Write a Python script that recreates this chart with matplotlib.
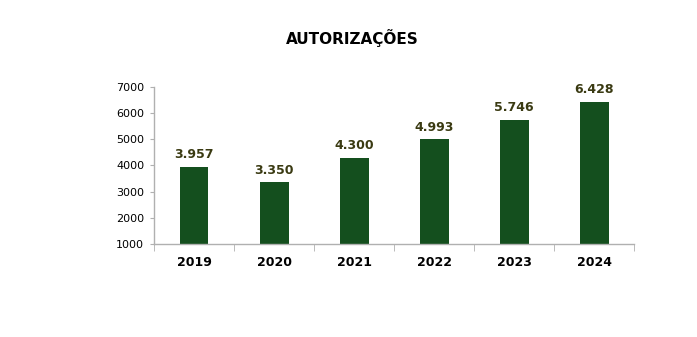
import matplotlib
matplotlib.use("Agg")
import matplotlib.pyplot as plt
import numpy as np

years = ["2019", "2020", "2021", "2022", "2023", "2024"]
autorizacoes = [3957, 3350, 4300, 4993, 5746, 6428]
value_labels = ["3.957", "3.350", "4.300", "4.993", "5.746", "6.428"]
y_ticks = [1000, 2000, 3000, 4000, 5000, 6000, 7000]

bar_color = "#144f1e"
label_color = "#3a3a12"
axis_color = "#b0b0b0"

plt.rcParams["font.family"] = ["DejaVu Sans"]

fig = plt.figure(figsize=(6.97, 3.37), dpi=100)
ax = fig.add_axes([0.221, 0.276, 0.689, 0.466])

x = np.arange(len(years))
ax.bar(x, autorizacoes, width=0.36, color=bar_color, zorder=2)

for xi, v, lab in zip(x, autorizacoes, value_labels):
    ax.annotate(lab, (xi, v), xytext=(0, 4), textcoords="offset points",
                ha="center", va="bottom", fontsize=9, fontweight="bold",
                color=label_color)

ax.set_xlim(-0.5, len(years) - 0.5)
ax.set_ylim(1000, 7000)
ax.set_yticks(y_ticks)
ax.set_yticklabels([str(t) for t in y_ticks], fontsize=8)
ax.set_xticks(x)
ax.set_xticklabels(years, fontsize=9, fontweight="bold")
ax.set_xticks(np.arange(-0.5, len(years)), minor=True)
ax.tick_params(axis="x", which="major", length=0, pad=9)
ax.tick_params(axis="x", which="minor", length=5, color=axis_color, direction="out")
ax.tick_params(axis="y", length=3, color=axis_color, pad=4)

for side in ("top", "right"):
    ax.spines[side].set_visible(False)
for side in ("left", "bottom"):
    ax.spines[side].set_color(axis_color)
    ax.spines[side].set_linewidth(1)

fig.text(0.505, 0.887, "AUTORIZAÇÕES", ha="center", va="center",
         fontsize=11, fontweight="bold", color="black")

fig.savefig("out.png", dpi=100, facecolor="white")
